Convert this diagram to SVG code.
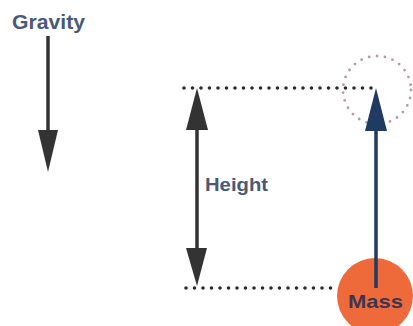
<svg xmlns="http://www.w3.org/2000/svg" width="413" height="326" viewBox="0 0 413 326">
  <style>
    .label { font-family: "Liberation Sans", Arial, sans-serif; font-weight: bold; fill: #4b5878; }
    .dotted { stroke: #2b2b2b; stroke-width: 3.6; stroke-dasharray: 0 8.5; stroke-linecap: round; fill: none; }
    .shaft { stroke: #333; stroke-width: 3.5; fill: none; }
  </style>
  <rect width="413" height="326" fill="#fff"/>

  <!-- gravity indicator -->
  <g id="gravity">
    <text class="label" x="12" y="29" font-size="20" textLength="73" lengthAdjust="spacingAndGlyphs">Gravity</text>
    <line class="shaft" x1="48" y1="36" x2="48" y2="135"/>
    <polygon points="38,130 58,130 48,172" fill="#333"/>
  </g>

  <!-- reference levels -->
  <g id="levels">
    <line class="dotted" x1="184" y1="88" x2="372" y2="88"/>
    <line class="dotted" x1="186" y1="288" x2="336" y2="288"/>
  </g>

  <!-- previous position of the mass -->
  <g id="ghost">
    <circle cx="377" cy="90" r="34" fill="none" stroke="#b39ca6" stroke-width="2.8" stroke-dasharray="0 8" stroke-linecap="round"/>
  </g>

  <!-- mass -->
  <g id="mass">
    <circle cx="375" cy="296" r="38" fill="#ee6a3a"/>
    <text x="348" y="308" font-size="19" font-weight="bold" textLength="55" lengthAdjust="spacingAndGlyphs" font-family="Liberation Sans, Arial, sans-serif" fill="#3d3550">Mass</text>
  </g>

  <!-- height measurement -->
  <g id="height">
    <line class="shaft" x1="197" y1="125" x2="197" y2="252"/>
    <polygon points="186,130 208,130 197,88" fill="#333"/>
    <polygon points="186,248 207,248 197,286" fill="#333"/>
    <text class="label" x="205" y="191" font-size="19" textLength="63" lengthAdjust="spacingAndGlyphs">Height</text>
  </g>

  <!-- lift path -->
  <g id="connectors">
    <line x1="376" y1="288" x2="376" y2="125" stroke="#1f3b63" stroke-width="3.5"/>
    <polygon points="365,131 387,131 376,88" fill="#1f3b63"/>
  </g>
</svg>
